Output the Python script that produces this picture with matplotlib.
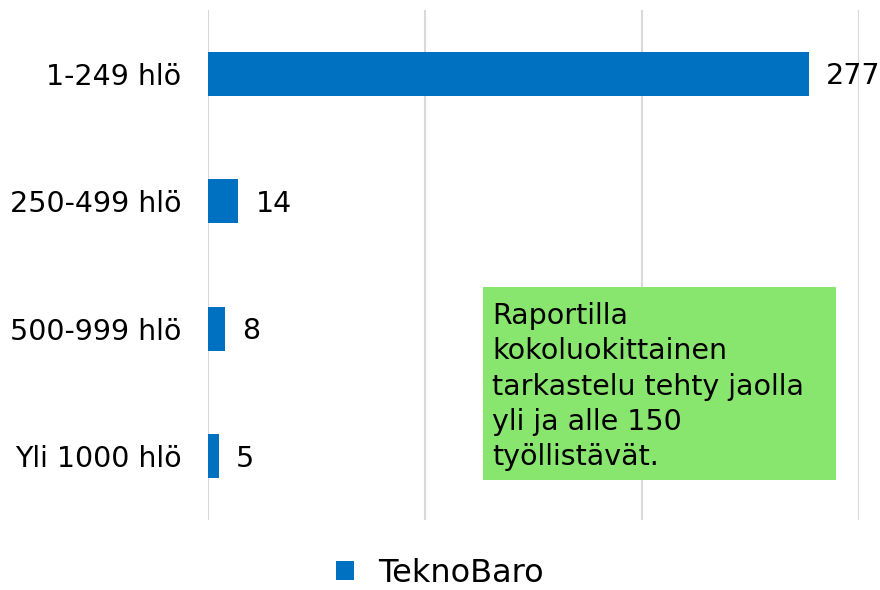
import numpy as np
from matplotlib import pyplot as plt
from matplotlib.patches import Patch, Rectangle

# company size classes and counts
categories = ['1-249 hlö', '250-499 hlö', '500-999 hlö', 'Yli 1000 hlö']
values = [277, 14, 8, 5]
series_name = 'TeknoBaro'
note = 'Raportilla\nkokoluokittainen\ntarkastelu tehty jaolla\nyli ja alle 150\ntyöllistävät.'

bar_color = '#0070C0'
fs = 20.5

fig = plt.figure(figsize=(8.8, 5.9), dpi=100)
ax = fig.add_axes([0.236, 0.119, 0.74, 0.864])

y = np.arange(len(categories))
ax.barh(y, values, height=0.345, color=bar_color, zorder=3)
for yi, v in zip(y, values):
    ax.text(v + 8, yi + 0.02, str(v), va='center', ha='left', fontsize=fs, zorder=4)

ax.set_xlim(0, 300)
ax.set_ylim(len(categories) - 0.5, -0.5)
ax.set_xticks([0, 100, 200, 300])
ax.set_xticklabels([])
ax.tick_params(axis='x', length=0)
ax.tick_params(axis='y', length=0, pad=19, labelsize=fs)
ax.set_yticks(y)
ax.set_yticklabels(categories)
ax.grid(axis='x', color='#D9D9D9', linewidth=1.5, zorder=0)
for s in ax.spines.values():
    s.set_visible(False)

# note box
fig.add_artist(Rectangle((0.549, 0.186), 0.401, 0.328, transform=fig.transFigure,
                         facecolor='#88E66E', edgecolor='none', zorder=5))
fig.text(0.559, 0.488, note, fontsize=fs, va='top', ha='left', linespacing=1.33,
         zorder=6)

fig.legend(handles=[Patch(facecolor=bar_color, label=series_name)],
           loc='center', bbox_to_anchor=(0.5, 0.028), frameon=False,
           fontsize=23, handlelength=0.55, handleheight=0.55, handletextpad=0.75,
           borderpad=0.2)

fig.savefig('out.png', dpi=100)
